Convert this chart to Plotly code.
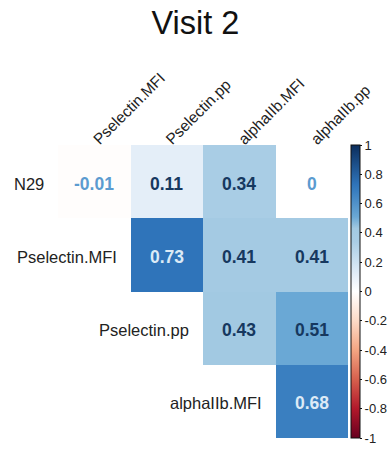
import plotly.graph_objects as go

# ---- data ----
row_labels = ["N29", "Pselectin.MFI", "Pselectin.pp", "alphaIIb.MFI"]
col_labels = ["Pselectin.MFI", "Pselectin.pp", "alphaIIb.MFI", "alphaIIb.pp"]
row_n29 = [-0.01, 0.11, 0.34, 0.00]
row_pselectin_mfi = [None, 0.73, 0.41, 0.41]
row_pselectin_pp = [None, None, 0.43, 0.51]
row_alphaiib_mfi = [None, None, None, 0.68]
cbar_tickvals = [1, 0.8, 0.6, 0.4, 0.2, 0, -0.2, -0.4, -0.6, -0.8, -1]
cbar_ticktext = ["1", "0.8", "0.6", "0.4", "0.2", "0", "-0.2", "-0.4", "-0.6", "-0.8", "-1"]
title_text = "Visit 2"

z = [row_n29, row_pselectin_mfi, row_pselectin_pp, row_alphaiib_mfi]

colorscale = [
    [0.0, "#67001F"],
    [0.1, "#B2182B"],
    [0.2, "#D6604D"],
    [0.3, "#F4A582"],
    [0.4, "#FDDBC7"],
    [0.5, "#FFFFFF"],
    [0.555, "#E4EEF8"],
    [0.67, "#A9CDE5"],
    [0.715, "#A2C9E2"],
    [0.755, "#6AA8D5"],
    [0.84, "#3A7FC0"],
    [0.865, "#2F74BA"],
    [1.0, "#0B2D5C"],
]

FONT = "Liberation Sans, Arial, sans-serif"
W, H = 387, 449
ML, MR, MT, MB = 58, 39, 145, 11

fig = go.Figure()
fig.add_trace(go.Heatmap(
    z=z,
    x=list(range(len(col_labels))),
    y=list(range(len(row_labels))),
    zmin=-1, zmax=1,
    colorscale=colorscale,
    hoverongaps=False,
    colorbar=dict(
        xref="container", x=351 / W, xanchor="left",
        yref="paper", y=0.5, yanchor="middle",
        len=1.0, lenmode="fraction",
        thickness=9, thicknessmode="pixels",
        outlinewidth=1, outlinecolor="#111111",
        tickvals=cbar_tickvals, ticktext=cbar_ticktext,
        ticks="outside", ticklen=2, tickcolor="#111111",
        tickfont=dict(family=FONT, size=13, color="#222222"),
        xpad=0, ypad=0,
    ),
))

def text_color(v):
    if abs(v) < 0.05:
        return "#5B9BD0"
    if v >= 0.6:
        return "#DCEAF6"
    return "#16385F"

annotations = []
for i, row in enumerate(z):
    for j, v in enumerate(row):
        if v is None:
            continue
        label = "0" if v == 0 else f"{v:.2f}"
        annotations.append(dict(
            x=j, y=i, xref="x", yref="y", text=label, showarrow=False,
            yshift=-2,
            font=dict(family=FONT, size=17.5, color=text_color(v), weight="bold"),
        ))
    # row label placed just left of the diagonal cell
    annotations.append(dict(
        x=i - 0.5, y=i, xref="x", yref="y", text=row_labels[i], showarrow=False,
        xanchor="right", xshift=-12, yshift=-2,
        font=dict(family=FONT, size=16.5, color="#222222"),
    ))

fig.update_layout(
    template="none",
    width=W, height=H, autosize=False,
    margin=dict(l=ML, r=MR, t=MT, b=MB),
    paper_bgcolor="white", plot_bgcolor="white",
    title=dict(text=title_text, x=0.505, xanchor="center", y=0.95, yanchor="middle",
               font=dict(family=FONT, size=32.5, color="#111111")),
    annotations=annotations,
    xaxis=dict(
        side="top", range=[-0.5, 3.5], tickvals=list(range(len(col_labels))),
        ticktext=col_labels, tickangle=-45, showgrid=False, zeroline=False,
        showline=False, ticks="", tickfont=dict(family=FONT, size=15.5, color="#222222"),
        ticklabelstandoff=-7,
        fixedrange=True, automargin=False,
    ),
    yaxis=dict(
        range=[3.5, -0.5], showticklabels=False, showgrid=False, zeroline=False,
        showline=False, ticks="", fixedrange=True, automargin=False,
    ),
)

fig.write_html(
    "out.html",
    config={"displayModeBar": False},
    post_script="document.body.style.margin='0';document.body.style.overflow='hidden';",
)
